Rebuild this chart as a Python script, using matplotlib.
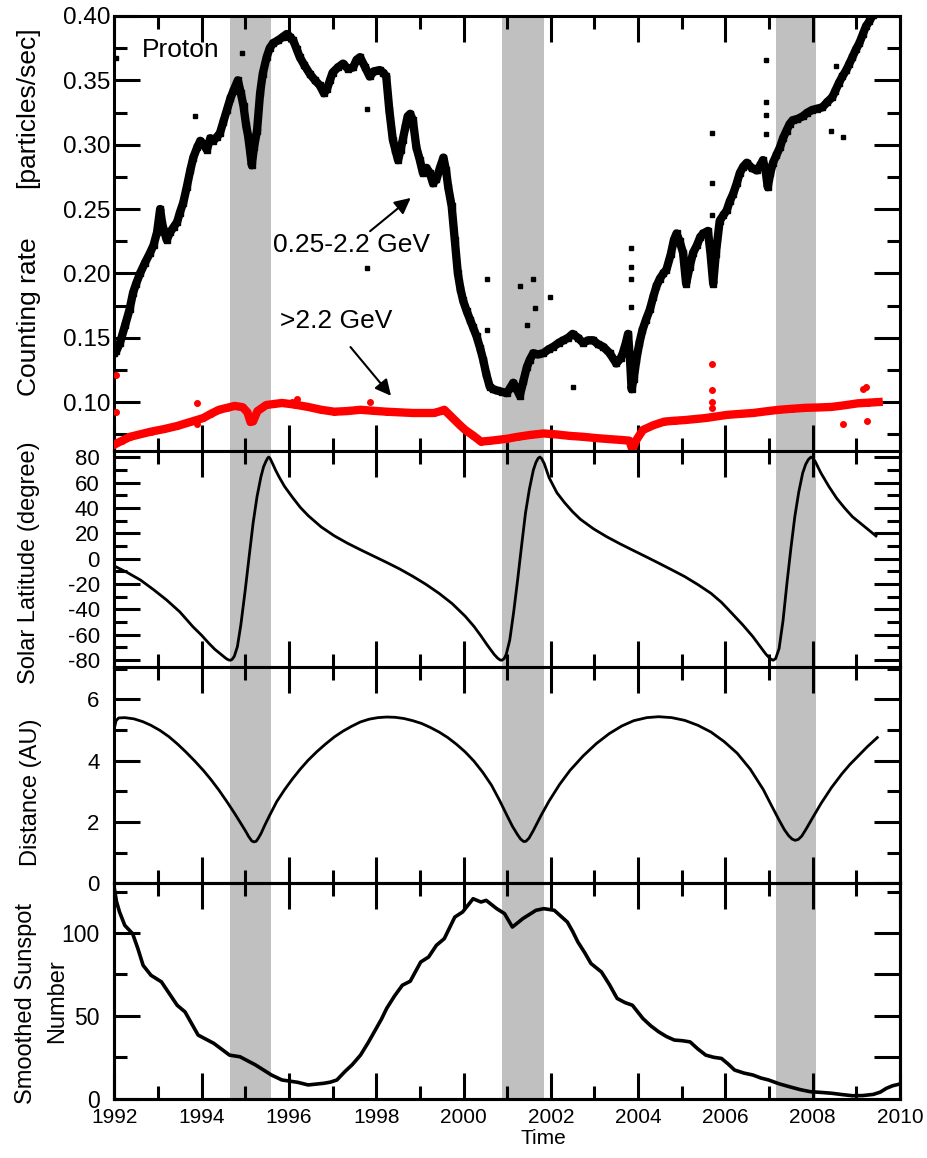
import matplotlib
matplotlib.use("Agg")
import matplotlib.pyplot as plt
from matplotlib.ticker import MultipleLocator, FixedLocator, FormatStrFormatter

plt.rcParams['axes.unicode_minus'] = False
plt.rcParams['font.family'] = ['Liberation Sans', 'DejaVu Sans']

# ---- data ----
# 0.25-2.2 GeV proton counting rate
p_low_t = [1992.00, 1992.05, 1992.13, 1992.25, 1992.35, 1992.43, 1992.50, 1992.59, 1992.70, 1992.82,
           1992.90, 1992.98, 1993.05, 1993.10, 1993.20, 1993.28, 1993.36, 1993.44, 1993.50, 1993.58,
           1993.66, 1993.74, 1993.81, 1993.90, 1993.97, 1994.05, 1994.12, 1994.20, 1994.27, 1994.35,
           1994.42, 1994.50, 1994.58, 1994.66, 1994.73, 1994.83, 1994.90, 1994.96, 1995.02, 1995.07,
           1995.11, 1995.15, 1995.20, 1995.27, 1995.34, 1995.40, 1995.49, 1995.56, 1995.64, 1995.75,
           1995.87, 1995.95, 1996.02, 1996.10, 1996.18, 1996.25, 1996.35, 1996.48, 1996.60, 1996.71,
           1996.80, 1996.87, 1996.94, 1997.00, 1997.12, 1997.24, 1997.35, 1997.47, 1997.55, 1997.63,
           1997.75, 1997.85, 1997.95, 1998.08, 1998.16, 1998.23, 1998.30, 1998.38, 1998.44, 1998.50,
           1998.56, 1998.61, 1998.67, 1998.72, 1998.78, 1998.84, 1998.92, 1999.00, 1999.07, 1999.15,
           1999.23, 1999.30, 1999.38, 1999.46, 1999.54, 1999.60, 1999.65, 1999.73, 1999.80, 1999.87,
           1999.93, 1999.99, 2000.07, 2000.15, 2000.22, 2000.30, 2000.38, 2000.45, 2000.52, 2000.60,
           2000.68, 2000.76, 2000.88, 2000.99, 2001.07, 2001.14, 2001.22, 2001.29, 2001.37, 2001.45,
           2001.52, 2001.60, 2001.70, 2001.83, 2001.95, 2002.06, 2002.18, 2002.29, 2002.40, 2002.50,
           2002.62, 2002.74, 2002.86, 2002.97, 2003.08, 2003.20, 2003.35, 2003.50, 2003.60, 2003.65,
           2003.72, 2003.77, 2003.82, 2003.85, 2003.90, 2003.96, 2004.03, 2004.10, 2004.18, 2004.27,
           2004.35, 2004.42, 2004.50, 2004.58, 2004.65, 2004.75, 2004.82, 2004.88, 2004.95, 2005.03,
           2005.10, 2005.18, 2005.26, 2005.35, 2005.42, 2005.49, 2005.60, 2005.66, 2005.72, 2005.78,
           2005.87, 2005.95, 2006.03, 2006.10, 2006.18, 2006.26, 2006.33, 2006.41, 2006.49, 2006.60,
           2006.72, 2006.80, 2006.86, 2006.92, 2006.97, 2007.03, 2007.09, 2007.17, 2007.25, 2007.32,
           2007.40, 2007.47, 2007.54, 2007.65, 2007.77, 2007.88, 2007.99, 2008.10, 2008.22, 2008.33,
           2008.45, 2008.52, 2008.60, 2008.68, 2008.77, 2008.84, 2008.91, 2008.99, 2009.07, 2009.15,
           2009.22, 2009.30, 2009.38]
p_low = [0.138, 0.140, 0.146, 0.160, 0.172, 0.185, 0.192, 0.200, 0.208, 0.216,
         0.222, 0.232, 0.250, 0.238, 0.226, 0.232, 0.236, 0.240, 0.247, 0.255,
         0.267, 0.280, 0.290, 0.298, 0.303, 0.300, 0.296, 0.305, 0.303, 0.306,
         0.309, 0.318, 0.327, 0.336, 0.342, 0.350, 0.340, 0.330, 0.315, 0.306,
         0.295, 0.284, 0.298, 0.311, 0.340, 0.355, 0.368, 0.375, 0.379, 0.381,
         0.384, 0.386, 0.384, 0.381, 0.374, 0.368, 0.362, 0.355, 0.350, 0.346,
         0.340, 0.343, 0.350, 0.356, 0.360, 0.363, 0.359, 0.360, 0.366, 0.368,
         0.360, 0.353, 0.357, 0.358, 0.356, 0.353, 0.327, 0.304, 0.296, 0.288,
         0.296, 0.304, 0.314, 0.322, 0.324, 0.319, 0.298, 0.288, 0.278, 0.282,
         0.278, 0.270, 0.273, 0.282, 0.290, 0.280, 0.267, 0.252, 0.226, 0.200,
         0.188, 0.179, 0.171, 0.164, 0.158, 0.151, 0.142, 0.133, 0.122, 0.112,
         0.110, 0.109, 0.108, 0.107, 0.111, 0.115, 0.110, 0.105, 0.116, 0.127,
         0.133, 0.138, 0.137, 0.138, 0.141, 0.143, 0.146, 0.148, 0.150, 0.153,
         0.150, 0.146, 0.148, 0.148, 0.145, 0.143, 0.138, 0.130, 0.134, 0.138,
         0.146, 0.153, 0.130, 0.110, 0.118, 0.133, 0.146, 0.156, 0.164, 0.172,
         0.182, 0.190, 0.196, 0.200, 0.203, 0.215, 0.226, 0.231, 0.225, 0.216,
         0.192, 0.205, 0.216, 0.222, 0.228, 0.231, 0.233, 0.215, 0.192, 0.215,
         0.241, 0.245, 0.249, 0.256, 0.262, 0.270, 0.278, 0.283, 0.286, 0.282,
         0.280, 0.284, 0.288, 0.280, 0.267, 0.278, 0.286, 0.292, 0.298, 0.305,
         0.311, 0.316, 0.319, 0.320, 0.322, 0.325, 0.327, 0.328, 0.329, 0.333,
         0.337, 0.342, 0.348, 0.353, 0.358, 0.363, 0.368, 0.374, 0.379, 0.386,
         0.392, 0.396, 0.401]
# isolated points of the low-energy channel
p_low_out_t = [1992.05, 1993.85, 1994.92, 1997.78, 1997.80, 2000.53, 2000.53, 2001.29, 2001.60,
               2001.98, 2001.45, 2001.63, 2002.52, 2003.83, 2003.83, 2003.83, 2003.83, 2005.69,
               2005.69, 2005.69, 2006.92, 2006.92, 2006.92, 2006.92, 2008.54, 2008.43, 2008.70]
p_low_out = [0.367, 0.322, 0.371, 0.328, 0.204, 0.196, 0.156, 0.190, 0.196,
             0.182, 0.160, 0.173, 0.112, 0.220, 0.205, 0.196, 0.174, 0.309,
             0.270, 0.245, 0.366, 0.333, 0.323, 0.308, 0.361, 0.311, 0.306]

# >2.2 GeV proton counting rate
p_high_t = [1992.00, 1992.18, 1992.36, 1992.60, 1992.84, 1993.14, 1993.44, 1993.74, 1994.04, 1994.22,
            1994.40, 1994.58, 1994.76, 1994.94, 1995.05, 1995.12, 1995.18, 1995.28, 1995.48, 1995.66,
            1995.84, 1996.14, 1996.44, 1996.74, 1997.04, 1997.34, 1997.64, 1997.94, 1998.24, 1998.54,
            1998.84, 1999.08, 1999.32, 1999.48, 1999.56, 1999.68, 1999.80, 1999.92, 2000.04, 2000.22,
            2000.40, 2000.58, 2000.76, 2001.00, 2001.24, 2001.54, 2001.84, 2002.14, 2002.44, 2002.74,
            2003.04, 2003.34, 2003.63, 2003.80, 2003.87, 2003.95, 2004.11, 2004.35, 2004.60, 2004.84,
            2005.07, 2005.31, 2005.55, 2005.79, 2006.03, 2006.33, 2006.63, 2006.93, 2007.23, 2007.53,
            2007.83, 2008.13, 2008.43, 2008.73, 2009.03, 2009.27, 2009.51]
p_high = [0.067, 0.070, 0.073, 0.075, 0.077, 0.079, 0.0814, 0.0845, 0.0876, 0.091,
          0.094, 0.0955, 0.097, 0.096, 0.092, 0.0845, 0.0850, 0.093, 0.0977, 0.0985,
          0.0993, 0.098, 0.0962, 0.094, 0.0925, 0.093, 0.094, 0.0932, 0.0925, 0.092,
          0.0915, 0.0915, 0.0915, 0.093, 0.094, 0.090, 0.086, 0.082, 0.0783, 0.0740,
          0.0693, 0.0698, 0.0705, 0.0715, 0.073, 0.0745, 0.0756, 0.0748, 0.0737, 0.073,
          0.072, 0.0712, 0.0705, 0.070, 0.063, 0.070, 0.0783, 0.082, 0.0848, 0.0855,
          0.086, 0.0868, 0.0876, 0.0888, 0.090, 0.0908, 0.0915, 0.0928, 0.094, 0.0948,
          0.0955, 0.0958, 0.0962, 0.0975, 0.099, 0.0995, 0.100]
p_high_out_t = [1992.05, 1992.05, 1993.89, 1993.89, 1996.18, 1996.07, 1997.85, 2005.69, 2005.69,
                2005.69, 2005.69, 2009.23, 2009.15, 2008.70, 2009.25]
p_high_out = [0.121, 0.092, 0.099, 0.083, 0.1025, 0.100, 0.100, 0.1296, 0.109,
              0.100, 0.095, 0.1117, 0.110, 0.083, 0.0853]

# Ulysses heliographic latitude (degree)
lat_t = [1992.00, 1992.30, 1992.60, 1992.90, 1993.20, 1993.50, 1993.80, 1994.00, 1994.16, 1994.30,
         1994.46, 1994.56, 1994.62, 1994.66, 1994.70, 1994.75, 1994.82, 1994.90, 1995.00, 1995.09,
         1995.18, 1995.27, 1995.36, 1995.42, 1995.47, 1995.51, 1995.54, 1995.57, 1995.62, 1995.70,
         1995.78, 1995.90, 1996.08, 1996.26, 1996.44, 1996.74, 1997.04, 1997.34, 1997.64, 1997.94,
         1998.24, 1998.54, 1998.84, 1999.14, 1999.44, 1999.74, 2000.04, 2000.24, 2000.40, 2000.55,
         2000.70, 2000.78, 2000.84, 2000.88, 2000.93, 2000.98, 2001.06, 2001.15, 2001.24, 2001.33,
         2001.42, 2001.51, 2001.60, 2001.66, 2001.71, 2001.75, 2001.79, 2001.85, 2001.96, 2002.14,
         2002.32, 2002.50, 2002.68, 2002.98, 2003.28, 2003.58, 2003.87, 2004.17, 2004.47, 2004.77,
         2005.07, 2005.37, 2005.67, 2005.91, 2006.15, 2006.39, 2006.63, 2006.80, 2006.93, 2007.02,
         2007.09, 2007.15, 2007.23, 2007.32, 2007.41, 2007.50, 2007.59, 2007.68, 2007.77, 2007.84,
         2007.90, 2007.96, 2008.00, 2008.06, 2008.19, 2008.37, 2008.55, 2008.73, 2008.91, 2009.18,
         2009.45]
lat = [-5.8, -11.0, -16.9, -24.5, -32.7, -42.0, -53.7, -60.5, -66.6, -71.5,
       -76.0, -78.8, -80.0, -80.2, -79.5, -77.0, -69.5, -52.0, -24.7, 2.0,
       28.1, 49.0, 64.7, 72.5, 76.5, 79.2, 80.2, 79.0, 75.5, 69.5,
       64.2, 57.0, 48.5, 40.5, 34.0, 25.0, 18.0, 12.2, 7.0, 2.0,
       -3.0, -8.2, -14.0, -20.3, -27.4, -35.5, -45.5, -53.5, -61.0, -68.5,
       -75.5, -78.5, -80.0, -80.2, -79.0, -75.5, -64.2, -42.0, -16.8, 10.0,
       36.0, 55.0, 69.9, 76.0, 79.2, 80.2, 79.0, 75.0, 64.0, 52.0,
       44.0, 37.0, 31.0, 23.5, 17.3, 11.8, 6.8, 1.7, -3.5, -8.8,
       -14.2, -20.5, -27.4, -34.5, -43.2, -52.0, -61.6, -69.5, -75.5, -78.8,
       -80.2, -79.0, -71.0, -49.0, -19.4, 8.0, 33.1, 52.5, 67.5, 74.5,
       78.2, 80.2, 79.5, 76.5, 67.5, 57.0, 47.6, 40.0, 33.1, 25.5,
       17.9]

# heliocentric distance (AU)
dist_t = [1992.00, 1992.04, 1992.10, 1992.24, 1992.45, 1992.65, 1992.84, 1993.05, 1993.25, 1993.44,
          1993.64, 1993.84, 1994.04, 1994.22, 1994.40, 1994.58, 1994.76, 1994.90, 1995.00, 1995.08,
          1995.15, 1995.20, 1995.25, 1995.30, 1995.36, 1995.45, 1995.55, 1995.72, 1995.90, 1996.08,
          1996.26, 1996.44, 1996.64, 1996.84, 1997.04, 1997.24, 1997.44, 1997.64, 1997.84, 1998.04,
          1998.24, 1998.44, 1998.64, 1998.84, 1999.04, 1999.24, 1999.44, 1999.64, 1999.84, 2000.04,
          2000.24, 2000.44, 2000.64, 2000.82, 2001.00, 2001.12, 2001.24, 2001.31, 2001.38, 2001.43,
          2001.50, 2001.60, 2001.78, 2001.96, 2002.20, 2002.44, 2002.74, 2003.04, 2003.34, 2003.63,
          2003.90, 2004.20, 2004.47, 2004.77, 2005.07, 2005.37, 2005.67, 2005.97, 2006.27, 2006.57,
          2006.87, 2007.05, 2007.23, 2007.35, 2007.45, 2007.53, 2007.60, 2007.67, 2007.75, 2007.85,
          2008.00, 2008.19, 2008.43, 2008.67, 2008.85, 2009.03, 2009.25, 2009.48]
dist = [5.05, 5.30, 5.39, 5.40, 5.36, 5.27, 5.15, 4.98, 4.78, 4.55,
        4.28, 3.99, 3.68, 3.37, 3.03, 2.66, 2.27, 1.95, 1.72, 1.52,
        1.38, 1.35, 1.37, 1.47, 1.62, 1.90, 2.19, 2.66, 3.05, 3.40,
        3.72, 4.01, 4.29, 4.54, 4.77, 4.96, 5.12, 5.26, 5.35, 5.40,
        5.42, 5.41, 5.37, 5.30, 5.21, 5.08, 4.93, 4.75, 4.53, 4.28,
        3.98, 3.62, 3.20, 2.72, 2.20, 1.86, 1.58, 1.44, 1.36, 1.37,
        1.47, 1.72, 2.22, 2.68, 3.22, 3.68, 4.15, 4.55, 4.88, 5.13,
        5.30, 5.40, 5.43, 5.40, 5.31, 5.15, 4.93, 4.62, 4.24, 3.72,
        3.05, 2.55, 2.06, 1.75, 1.55, 1.44, 1.40, 1.43, 1.54, 1.77,
        2.14, 2.60, 3.12, 3.57, 3.87, 4.13, 4.45, 4.75]

# smoothed sunspot number
ssn_t = [1992.00, 1992.05, 1992.12, 1992.24, 1992.42, 1992.54, 1992.66, 1992.84, 1993.08, 1993.44,
         1993.62, 1993.92, 1994.28, 1994.64, 1994.88, 1995.24, 1995.60, 1995.84, 1996.20, 1996.44,
         1996.80, 1996.95, 1997.10, 1997.28, 1997.45, 1997.64, 1997.82, 1998.00, 1998.12, 1998.24,
         1998.42, 1998.60, 1998.78, 1999.02, 1999.20, 1999.38, 1999.56, 1999.80, 1999.98, 2000.22,
         2000.40, 2000.52, 2000.76, 2000.94, 2001.12, 2001.36, 2001.66, 2001.84, 2002.08, 2002.38,
         2002.50, 2002.62, 2002.78, 2002.92, 2003.16, 2003.34, 2003.52, 2003.70, 2003.87, 2004.11,
         2004.29, 2004.47, 2004.65, 2004.83, 2005.01, 2005.19, 2005.37, 2005.55, 2005.73, 2005.91,
         2006.06, 2006.21, 2006.42, 2006.63, 2006.81, 2006.99, 2007.23, 2007.47, 2007.71, 2007.95,
         2008.19, 2008.43, 2008.67, 2008.91, 2009.15, 2009.39, 2009.55, 2009.69, 2009.83, 2009.97]
ssn = [127.0, 119.0, 112.7, 104.6, 99.6, 90.6, 80.5, 74.5, 70.5, 56.4,
       52.4, 38.4, 33.4, 26.3, 25.3, 20.3, 14.3, 11.3, 9.9, 8.3,
       9.3, 10.0, 11.3, 16.3, 20.5, 26.3, 34.0, 42.4, 48.0, 54.5,
       62.0, 68.5, 70.9, 82.5, 85.5, 92.6, 96.6, 109.6, 112.7, 120.7,
       118.7, 119.7, 114.7, 111.7, 103.6, 108.7, 113.7, 114.7, 113.7, 106.6,
       101.0, 94.6, 88.0, 81.6, 76.5, 69.0, 60.5, 58.0, 56.4, 48.4,
       44.0, 40.4, 37.5, 35.4, 35.0, 34.3, 30.0, 26.3, 25.0, 24.3,
       21.0, 17.3, 15.5, 14.3, 12.5, 11.3, 9.0, 7.2, 5.5, 4.2,
       3.8, 3.3, 2.5, 1.8, 1.9, 2.6, 4.0, 6.3, 7.8, 8.7]

# fast latitude scan intervals (shaded)
scans = [(1994.66, 1995.60), (2000.89, 2001.84), (2007.15, 2008.08)]

# ---- figure ----
W, H = 928, 1158
fig = plt.figure(figsize=(W / 100, H / 100), dpi=100)

x0, x1 = 114.3, 900.0
def rect(top, bottom):
    return [x0 / W, 1 - bottom / H, (x1 - x0) / W, (bottom - top) / H]

panels = [(16.0, 450.7), (450.7, 666.7), (666.7, 883.3), (883.3, 1098.7)]
axes = [fig.add_axes(rect(t, b)) for t, b in panels]
ax1, ax2, ax3, ax4 = axes

for ax in axes:
    for a, b in scans:
        ax.axvspan(a, b, color='#c0c0c0', lw=0, zorder=0)
    ax.set_xlim(1992, 2010)
    ax.xaxis.set_major_locator(MultipleLocator(2))
    ax.xaxis.set_minor_locator(MultipleLocator(1))
    for s in ax.spines.values():
        s.set_linewidth(2.2)
    ax.tick_params(which='both', direction='in', top=True, bottom=True, left=True, right=True,
                   color='black', width=2.2)
    ax.tick_params(which='major', length=19)
    ax.tick_params(which='minor', length=9.5)
    if ax is not ax4:
        ax.tick_params(axis='x', labelbottom=False)

# top panel: counting rates
ax1.plot(p_low_t, p_low, color='black', lw=6, marker='s', ms=4, zorder=3)
ax1.plot(p_low_out_t, p_low_out, ls='none', color='black', marker='s', ms=3.5, zorder=3)
ax1.plot(p_high_t, p_high, color='#ff0000', lw=6, marker='o', ms=4, zorder=3)
ax1.plot(p_high_out_t, p_high_out, ls='none', color='#ff0000', marker='o', ms=4, zorder=3)
ax1.set_ylim(0.0622, 0.40)
ax1.yaxis.set_major_locator(MultipleLocator(0.05))
ax1.yaxis.set_minor_locator(MultipleLocator(0.025))
ax1.yaxis.set_major_formatter(FormatStrFormatter('%.2f'))
ax1.tick_params(axis='y', labelsize=17.5, pad=3)

ax1.text(1992.63, 0.368, 'Proton', fontsize=19, va='baseline')
ax1.text(1995.63, 0.2166, '0.25-2.2 GeV', fontsize=19, va='baseline')
ax1.text(1995.79, 0.1576, '>2.2 GeV', fontsize=19, va='baseline')
ax1.annotate('', xy=(1998.84, 0.260), xytext=(1997.81, 0.2314),
             arrowprops=dict(arrowstyle='-|>', color='black', lw=1.5, mutation_scale=24))
ax1.annotate('', xy=(1998.38, 0.1032), xytext=(1997.37, 0.1444),
             arrowprops=dict(arrowstyle='-|>', color='black', lw=1.5, mutation_scale=24))

# solar latitude
ax2.plot(lat_t, lat, color='black', lw=2.0)
ax2.set_ylim(-85.3, 85.2)
ax2.yaxis.set_major_locator(MultipleLocator(20))
ax2.yaxis.set_minor_locator(MultipleLocator(10))
ax2.tick_params(axis='y', labelsize=16, pad=10.5)

# distance
ax3.plot(dist_t, dist, color='black', lw=2.0)
ax3.set_ylim(0, 7.06)
ax3.yaxis.set_major_locator(MultipleLocator(2))
ax3.yaxis.set_minor_locator(MultipleLocator(1))
ax3.tick_params(axis='y', labelsize=16, pad=10.5)

# sunspot number
ax4.plot(ssn_t, ssn, color='black', lw=2.6)
ax4.set_ylim(0, 130)
ax4.yaxis.set_major_locator(MultipleLocator(50))
ax4.yaxis.set_minor_locator(MultipleLocator(25))
ax4.tick_params(axis='y', labelsize=16.5, pad=10.5)
ax4.tick_params(axis='x', labelsize=15, pad=7)

# right-hand ticks of the sunspot panel are laid out differently from the left
ax4.tick_params(axis='y', which='both', right=False)
ax4r = ax4.twinx()
ax4r.set_ylim(ax4.get_ylim())
ax4r.yaxis.set_major_locator(FixedLocator([25, 50, 75, 100]))
ax4r.yaxis.set_minor_locator(FixedLocator([125]))
ax4r.tick_params(axis='y', which='both', direction='in', right=True, labelright=False,
                 color='black', width=2.2)
ax4r.tick_params(axis='y', which='major', length=19)
ax4r.tick_params(axis='y', which='minor', length=9.5)
for s in ax4r.spines.values():
    s.set_linewidth(2.2)

# y labels
fig.text(29 / W, 1 - 317 / H, 'Counting rate', rotation=90, fontsize=19, ha='center', va='center')
fig.text(27 / W, 1 - 107 / H, '[particles/sec]', rotation=90, fontsize=19, ha='center', va='center')
fig.text(29 / W, 1 - 563 / H, 'Solar Latitude (degree)', rotation=90, fontsize=17, ha='center', va='center')
fig.text(31 / W, 1 - 792 / H, 'Distance (AU)', rotation=90, fontsize=17, ha='center', va='center')
fig.text(26 / W, 1 - 1004 / H, 'Smoothed Sunspot', rotation=90, fontsize=17, ha='center', va='center')
fig.text(57 / W, 1 - 1001 / H, 'Number', rotation=90, fontsize=17, ha='center', va='center')
fig.text(543 / W, 1 - 1139 / H, 'Time', fontsize=15, ha='center', va='center')

fig.savefig('out.png', dpi=100)
